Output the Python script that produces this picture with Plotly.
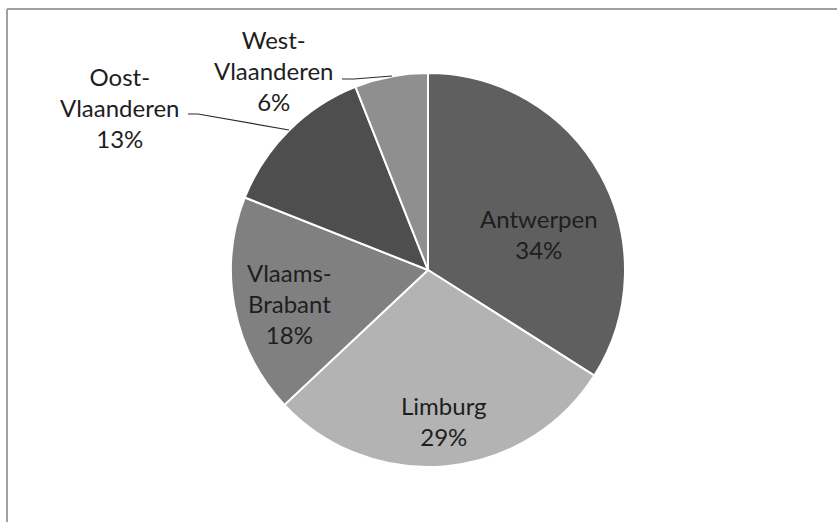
import plotly.graph_objects as go

W, H = 837, 522

provinces = ["Antwerpen", "Limburg", "Vlaams-Brabant", "Oost-Vlaanderen", "West-Vlaanderen"]
shares = [34, 29, 18, 13, 6]
label_texts = ["Antwerpen<br>34%", "Limburg<br>29%", "Vlaams-<br>Brabant<br>18%",
               "Oost-<br>Vlaanderen<br>13%", "West-<br>Vlaanderen<br>6%"]
colors = ["#5f5f5f", "#b3b3b3", "#808080", "#4e4e4e", "#8f8f8f"]

cx, cy, r = 428, 270, 197

def px(x):
    return x / W

def py(y):
    return 1 - y / H

fig = go.Figure(go.Pie(
    labels=provinces, values=shares, sort=False, direction="clockwise", rotation=0,
    marker=dict(colors=colors, line=dict(color="white", width=2)),
    textinfo="none", hoverinfo="label+percent", showlegend=False,
    domain=dict(x=[px(cx - r), px(cx + r)], y=[py(cy + r), py(cy - r)]),
))

label_pos = [(539, 234), (444, 421), (289, 303), (120, 108), (274, 70)]
font = dict(family="Lato, Carlito, sans-serif", size=24, color="#1e1e1e")
for t, (x, y) in zip(label_texts, label_pos):
    fig.add_annotation(text=t, x=px(x), y=py(y), xref="paper", yref="paper",
                       showarrow=False, xanchor="center", yanchor="middle", font=font)

# leader lines
fig.add_shape(type="path", xref="paper", yref="paper",
              path=f"M {px(188)} {py(114)} L {px(198)} {py(114)} L {px(289)} {py(130)}",
              line=dict(color="#2a2a2a", width=1.2))
fig.add_shape(type="path", xref="paper", yref="paper",
              path=f"M {px(342)} {py(79)} L {px(354)} {py(79)} L {px(392)} {py(76)}",
              line=dict(color="#2a2a2a", width=1.2))

# frame
fig.add_shape(type="line", xref="paper", yref="paper", x0=px(7), x1=1, y0=py(9), y1=py(9),
              line=dict(color="#a0a0a0", width=2))
fig.add_shape(type="line", xref="paper", yref="paper", x0=px(7), x1=px(7), y0=py(9), y1=0,
              line=dict(color="#a0a0a0", width=2))

fig.update_layout(width=W, height=H, margin=dict(l=0, r=0, t=0, b=0),
                  paper_bgcolor="white", plot_bgcolor="white")
fig.write_html("out.html", config={"displayModeBar": False},
               post_script="document.body.style.margin='0';document.body.style.overflow='hidden';")
